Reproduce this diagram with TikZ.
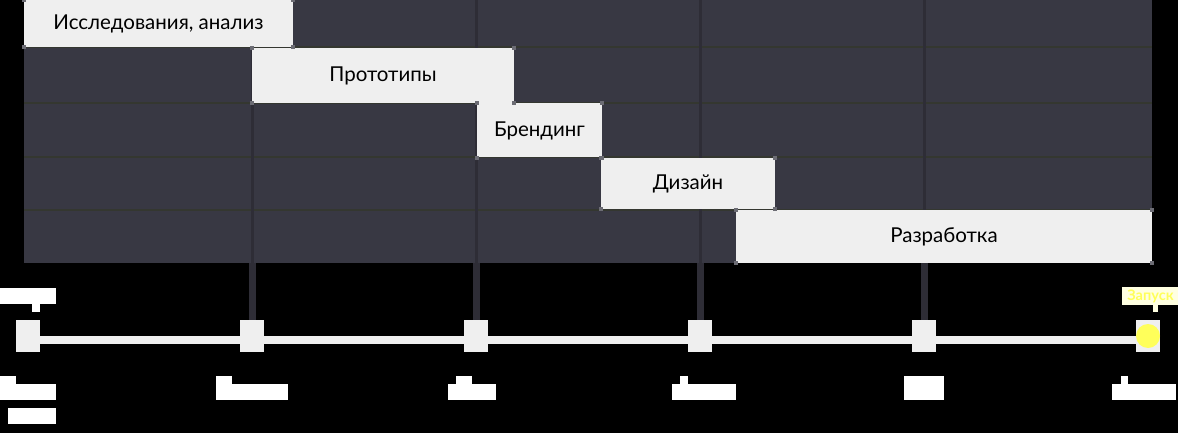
\documentclass[tikz,border=0pt]{standalone}
\usepackage{fontspec}
\setmainfont{Lato}
\usetikzlibrary{positioning}
\definecolor{panel}{RGB}{56,56,67}
\definecolor{rowline}{RGB}{52,55,48}
\definecolor{barfill}{RGB}{239,239,239}
\definecolor{stem}{RGB}{46,45,54}
\definecolor{launch}{RGB}{255,255,90}
\definecolor{handle}{RGB}{108,108,116}
\tikzset{
  bar/.style={fill=barfill, inner sep=0pt, text=black, font=\fontsize{20.5}{22}\selectfont},
  mile/.style={fill=barfill, minimum width=24pt, minimum height=32pt, inner sep=0pt},
  stemthin/.style={draw=stem, line width=3pt},
  stemthick/.style={draw=stem, line width=7pt},
  timeline/.style={draw=barfill, line width=8pt},
  blank/.style={fill=white}
}

\begin{document}
\begin{tikzpicture}[x=1pt, y=-1pt]
	\fill[black] (0,0) rectangle (1178,433);
	\useasboundingbox (0,0) rectangle (1178,433);
	% dark panel with its rows
	\fill[panel] (24,0) rectangle (1152,263);
	\foreach \y in {47.5,103,157.5,209.5}
		\draw[rowline, line width=2pt] (24,\y) -- (1152,\y);
	% milestones
	\node[mile] (m0) at (28,336) {};
	\node[mile] (m1) at (252,336) {};
	\node[mile] (m2) at (476,336) {};
	\node[mile] (m3) at (700,336) {};
	\node[mile] (m4) at (924,336) {};
	\node[mile] (m5) at (1148,336) {};
	\fill[launch] (m5) circle (12);
	% stems from the panel down to the milestones
	\foreach \i/\x in {1/252,2/476,3/700,4/924} {
		\coordinate (top\i) at (\x,0);
		\coordinate (foot\i) at (\x,263);
		\draw[stemthin] (top\i) -- (foot\i);
		\draw[stemthick] (foot\i) -- (m\i.north);
	}
	% phases
	\node[bar, minimum width=269pt, minimum height=47pt] (research) at (158.5,23.5) {Исследования, анализ};
	\node[bar, minimum width=262pt, minimum height=55pt] (proto) at (383,75.5) {Прототипы};
	\node[bar, minimum width=125pt, minimum height=54pt] (brand) at (539.5,130.5) {Брендинг};
	\node[bar, minimum width=174pt, minimum height=51pt] (design) at (688,183.5) {Дизайн};
	\node[bar, minimum width=416pt, minimum height=53pt] (dev) at (944,236.5) {Разработка};
	% selection handles
	\foreach \b in {research,proto,brand,design,dev}
		\foreach \a in {north west,north east,south west,south east}
			\fill[handle] (\b.\a) +(-2,-2) rectangle +(2,2);
	% time axis
	\draw[timeline] ([yshift=-4pt]m0.east) -- ([yshift=-4pt]m5.west);
	% labels
	\fill[blank] (0,288) rectangle (56,304);
	\fill[blank] (32,304) rectangle (40,312);
	\fill[launch!18!white] (1122,287) rectangle (1178,305);
	\fill[launch!18!white] (1153,305) rectangle (1158,312);
	\node[text=launch, inner sep=0pt, font=\bfseries\fontsize{14.5}{15}\selectfont] (start) at (1150.5,296) {Запуск};
	\fill[blank] (0,376) rectangle (16,384);
	\fill[blank] (0,384) rectangle (56,400);
	\fill[blank] (8,408) rectangle (56,424);
	\fill[blank] (216,376) rectangle (232,384);
	\fill[blank] (216,384) rectangle (288,400);
	\fill[blank] (456,376) rectangle (472,384);
	\fill[blank] (448,384) rectangle (496,400);
	\fill[blank] (680,376) rectangle (688,384);
	\fill[blank] (672,384) rectangle (736,400);
	\fill[blank] (904,376) rectangle (944,400);
	\fill[blank] (1121,376) rectangle (1128,384);
	\fill[blank] (1112,384) rectangle (1176,400);
\end{tikzpicture}
\end{document}
